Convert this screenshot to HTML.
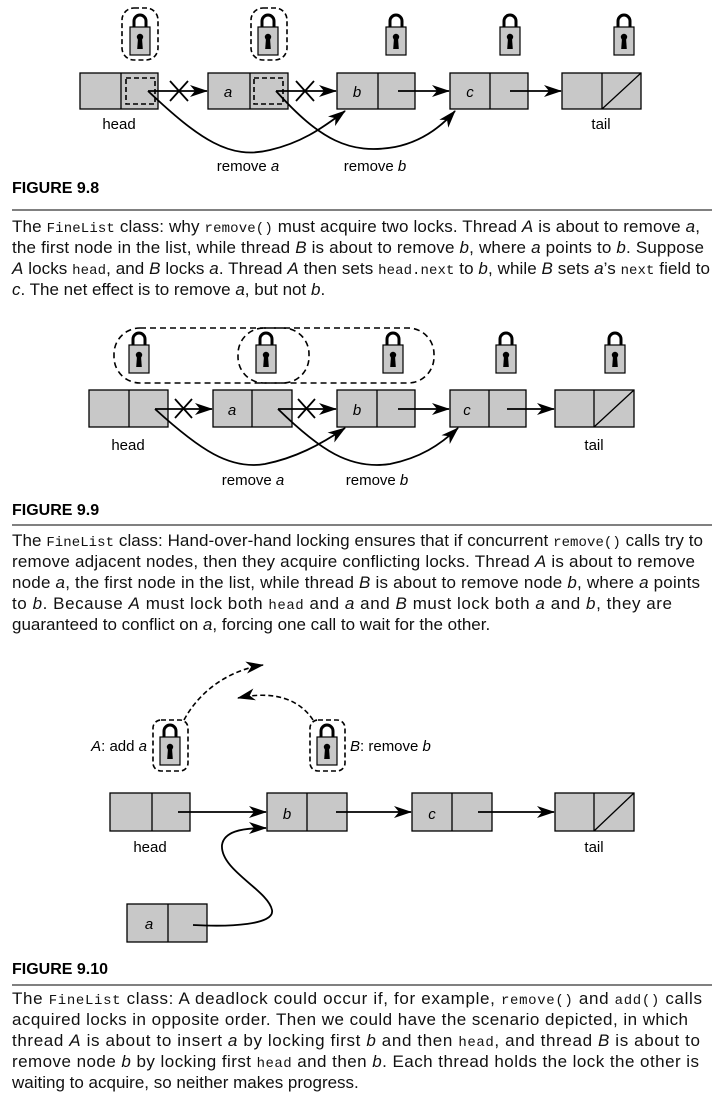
<!DOCTYPE html>
<html><head><meta charset="utf-8"><style>
body{margin:0;background:#fff;width:716px;height:1100px;overflow:hidden}
svg{display:block}
text{font-family:"Liberation Sans",sans-serif}
.cap{font-size:17px;fill:#111}
.mono{font-family:"Liberation Mono",monospace;font-size:14px}
.fig{font-weight:bold;font-size:16px}
.lbl{font-size:15px}
.it{font-style:italic}
</style></head><body>
<svg width="716" height="1100" viewBox="0 0 716 1100" xmlns="http://www.w3.org/2000/svg">
<defs>
<g id="lock">
<path d="M-6,2 V-6 A6,6 0 0 1 6,-6 V2" fill="none" stroke="#000" stroke-width="3"/>
<rect x="-10" y="0" width="20" height="28" fill="#c8c8c8" stroke="#000" stroke-width="1.2"/>
<circle cx="0" cy="10" r="3.2" fill="#000"/>
<path d="M-2,11 L-2.8,22 H2.8 L2,11 Z" fill="#000"/>
</g>
<marker id="ar" markerWidth="18" markerHeight="12" refX="17" refY="6" orient="auto" markerUnits="userSpaceOnUse">
<path d="M0,0 L18,6 L0,12 L5,6 Z" fill="#000"/>
</marker>
</defs>
<g stroke="#000" stroke-width="1.3" fill="#c8c8c8">
<rect x="80" y="73" width="78" height="36"/><line x1="121" y1="73" x2="121" y2="109"/>
<rect x="208" y="73" width="80" height="36"/><line x1="250" y1="73" x2="250" y2="109"/>
<rect x="337" y="73" width="78" height="36"/><line x1="378" y1="73" x2="378" y2="109"/>
<rect x="450" y="73" width="78" height="36"/><line x1="490" y1="73" x2="490" y2="109"/>
<rect x="562" y="73" width="79" height="36"/><line x1="602" y1="73" x2="602" y2="109"/><line x1="602" y1="109" x2="641" y2="73"/>
<rect x="89" y="390" width="79" height="37"/><line x1="129" y1="390" x2="129" y2="427"/>
<rect x="213" y="390" width="79" height="37"/><line x1="252" y1="390" x2="252" y2="427"/>
<rect x="337" y="390" width="78" height="37"/><line x1="377" y1="390" x2="377" y2="427"/>
<rect x="450" y="390" width="76" height="37"/><line x1="489" y1="390" x2="489" y2="427"/>
<rect x="555" y="390" width="79" height="37"/><line x1="594" y1="390" x2="594" y2="427"/><line x1="594" y1="427" x2="634" y2="390"/>
<rect x="110" y="793" width="80" height="38"/><line x1="152" y1="793" x2="152" y2="831"/>
<rect x="267" y="793" width="80" height="38"/><line x1="307" y1="793" x2="307" y2="831"/>
<rect x="412" y="793" width="80" height="38"/><line x1="452" y1="793" x2="452" y2="831"/>
<rect x="555" y="793" width="79" height="38"/><line x1="594" y1="793" x2="594" y2="831"/><line x1="594" y1="831" x2="634" y2="793"/>
<rect x="127" y="904" width="80" height="38"/><line x1="168" y1="904" x2="168" y2="942"/>
</g>
<use href="#lock" x="140" y="27"/><use href="#lock" x="268" y="27"/><use href="#lock" x="396" y="27"/><use href="#lock" x="510" y="27"/><use href="#lock" x="624" y="27"/>
<g fill="none" stroke="#000" stroke-width="1.6" stroke-dasharray="5,3">
<rect x="122" y="8" width="36" height="52" rx="12"/>
<rect x="251" y="8" width="36" height="52" rx="12"/>
<rect x="126" y="78" width="29" height="26"/>
<rect x="254" y="78" width="29" height="26"/>
</g>
<g fill="none" stroke="#000" stroke-width="1.8">
<line x1="148" y1="91" x2="207" y2="91" marker-end="url(#ar)"/>
<line x1="170" y1="81" x2="188" y2="101"/><line x1="188" y1="81" x2="170" y2="101"/>
<line x1="276" y1="91" x2="336" y2="91" marker-end="url(#ar)"/>
<line x1="296" y1="81" x2="314" y2="101"/><line x1="314" y1="81" x2="296" y2="101"/>
<path d="M148,91 C200,140 230,160 270,150 C300,143 320,130 345,111" marker-end="url(#ar)"/>
<path d="M276,91 C320,140 350,155 395,147 C420,142 440,128 455,111" marker-end="url(#ar)"/>
<line x1="398" y1="91" x2="449" y2="91" marker-end="url(#ar)"/>
<line x1="510" y1="91" x2="561" y2="91" marker-end="url(#ar)"/>
</g>
<text x="119" y="129" class="lbl" text-anchor="middle">head</text>
<text x="228" y="97" class="lbl it" text-anchor="middle" font-size="17">a</text>
<text x="357" y="97" class="lbl it" text-anchor="middle" font-size="17">b</text>
<text x="470" y="97" class="lbl it" text-anchor="middle" font-size="17">c</text>
<text x="601" y="129" class="lbl" text-anchor="middle">tail</text>
<text x="248" y="171" class="lbl" text-anchor="middle">remove <tspan class="it">a</tspan></text>
<text x="375" y="171" class="lbl" text-anchor="middle">remove <tspan class="it">b</tspan></text>
<text x="12" y="193" class="fig">FIGURE 9.8</text>
<line x1="12" y1="210" x2="712" y2="210" stroke="#000" stroke-width="1"/>
<g class="cap">
<text x="12" y="232" textLength="688" lengthAdjust="spacing">The <tspan class="mono">FineList</tspan> class: why <tspan class="mono">remove()</tspan> must acquire two locks. Thread <tspan class="it">A</tspan> is about to remove <tspan class="it">a</tspan>,</text>
<text x="12" y="253" textLength="692" lengthAdjust="spacing">the first node in the list, while thread <tspan class="it">B</tspan> is about to remove <tspan class="it">b</tspan>, where <tspan class="it">a</tspan> points to <tspan class="it">b</tspan>. Suppose</text>
<text x="12" y="274" textLength="698" lengthAdjust="spacing"><tspan class="it">A</tspan> locks <tspan class="mono">head</tspan>, and <tspan class="it">B</tspan> locks <tspan class="it">a</tspan>. Thread <tspan class="it">A</tspan> then sets <tspan class="mono">head.next</tspan> to <tspan class="it">b</tspan>, while <tspan class="it">B</tspan> sets <tspan class="it">a</tspan>’s <tspan class="mono">next</tspan> field to</text>
<text x="12" y="295"><tspan class="it">c</tspan>. The net effect is to remove <tspan class="it">a</tspan>, but not <tspan class="it">b</tspan>.</text>
</g>
<use href="#lock" x="139" y="345"/><use href="#lock" x="266" y="345"/><use href="#lock" x="393" y="345"/><use href="#lock" x="506" y="345"/><use href="#lock" x="615" y="345"/>
<g fill="none" stroke="#000" stroke-width="1.6" stroke-dasharray="6,4">
<rect x="114" y="328" width="195" height="55" rx="26"/>
<rect x="238" y="328" width="196" height="55" rx="26"/>
</g>
<g fill="none" stroke="#000" stroke-width="1.8">
<line x1="155" y1="409" x2="212" y2="409" marker-end="url(#ar)"/>
<line x1="175" y1="399" x2="192" y2="418"/><line x1="192" y1="399" x2="175" y2="418"/>
<line x1="278" y1="409" x2="336" y2="409" marker-end="url(#ar)"/>
<line x1="298" y1="399" x2="315" y2="418"/><line x1="315" y1="399" x2="298" y2="418"/>
<path d="M155,409 C200,450 230,470 265,464 C295,458 320,445 345,428" marker-end="url(#ar)"/>
<path d="M278,409 C320,450 350,470 390,464 C420,458 440,445 458,428" marker-end="url(#ar)"/>
<line x1="398" y1="409" x2="449" y2="409" marker-end="url(#ar)"/>
<line x1="507" y1="409" x2="554" y2="409" marker-end="url(#ar)"/>
</g>
<text x="128" y="450" class="lbl" text-anchor="middle">head</text>
<text x="232" y="415" class="lbl it" text-anchor="middle" font-size="17">a</text>
<text x="357" y="415" class="lbl it" text-anchor="middle" font-size="17">b</text>
<text x="467" y="415" class="lbl it" text-anchor="middle" font-size="17">c</text>
<text x="594" y="450" class="lbl" text-anchor="middle">tail</text>
<text x="253" y="485" class="lbl" text-anchor="middle">remove <tspan class="it">a</tspan></text>
<text x="377" y="485" class="lbl" text-anchor="middle">remove <tspan class="it">b</tspan></text>
<text x="12" y="515" class="fig">FIGURE 9.9</text>
<line x1="12" y1="525" x2="712" y2="525" stroke="#000" stroke-width="1"/>
<g class="cap">
<text x="12" y="546" textLength="691" lengthAdjust="spacing">The <tspan class="mono">FineList</tspan> class: Hand-over-hand locking ensures that if concurrent <tspan class="mono">remove()</tspan> calls try to</text>
<text x="12" y="567" textLength="683" lengthAdjust="spacing">remove adjacent nodes, then they acquire conflicting locks. Thread <tspan class="it">A</tspan> is about to remove</text>
<text x="12" y="588" textLength="688" lengthAdjust="spacing">node <tspan class="it">a</tspan>, the first node in the list, while thread <tspan class="it">B</tspan> is about to remove node <tspan class="it">b</tspan>, where <tspan class="it">a</tspan> points</text>
<text x="12" y="609" textLength="660" lengthAdjust="spacing">to <tspan class="it">b</tspan>. Because <tspan class="it">A</tspan> must lock both <tspan class="mono">head</tspan> and <tspan class="it">a</tspan> and <tspan class="it">B</tspan> must lock both <tspan class="it">a</tspan> and <tspan class="it">b</tspan>, they are</text>
<text x="12" y="630">guaranteed to conflict on <tspan class="it">a</tspan>, forcing one call to wait for the other.</text>
</g>
<use href="#lock" x="170" y="737"/><use href="#lock" x="327" y="737"/>
<g fill="none" stroke="#000" stroke-width="1.6" stroke-dasharray="5,3">
<rect x="153" y="720" width="35" height="51" rx="8"/>
<rect x="310" y="720" width="35" height="51" rx="8"/>
<path d="M184,720 C200,690 230,670 263,665" marker-end="url(#ar)"/>
<path d="M313,720 C300,700 275,690 238,698" marker-end="url(#ar)"/>
</g>
<g fill="none" stroke="#000" stroke-width="1.8">
<line x1="178" y1="812" x2="266" y2="812" marker-end="url(#ar)"/>
<path d="M193,925 C230,927 275,925 272,910 C268,890 220,870 222,845 C224,832 240,828 266,828" marker-end="url(#ar)"/>
<line x1="336" y1="812" x2="411" y2="812" marker-end="url(#ar)"/>
<line x1="478" y1="812" x2="554" y2="812" marker-end="url(#ar)"/>
</g>
<text x="147" y="751" class="lbl" text-anchor="end"><tspan class="it">A</tspan>: add <tspan class="it">a</tspan></text>
<text x="350" y="751" class="lbl"><tspan class="it">B</tspan>: remove <tspan class="it">b</tspan></text>
<text x="150" y="852" class="lbl" text-anchor="middle">head</text>
<text x="287" y="819" class="lbl it" text-anchor="middle" font-size="17">b</text>
<text x="432" y="819" class="lbl it" text-anchor="middle" font-size="17">c</text>
<text x="594" y="852" class="lbl" text-anchor="middle">tail</text>
<text x="149" y="929" class="lbl it" text-anchor="middle" font-size="17">a</text>
<text x="12" y="974" class="fig">FIGURE 9.10</text>
<line x1="12" y1="985" x2="712" y2="985" stroke="#000" stroke-width="1"/>
<g class="cap">
<text x="12" y="1004" textLength="690" lengthAdjust="spacing">The <tspan class="mono">FineList</tspan> class: A deadlock could occur if, for example, <tspan class="mono">remove()</tspan> and <tspan class="mono">add()</tspan> calls</text>
<text x="12" y="1025" textLength="676" lengthAdjust="spacing">acquired locks in opposite order. Then we could have the scenario depicted, in which</text>
<text x="12" y="1046" textLength="688" lengthAdjust="spacing">thread <tspan class="it">A</tspan> is about to insert <tspan class="it">a</tspan> by locking first <tspan class="it">b</tspan> and then <tspan class="mono">head</tspan>, and thread <tspan class="it">B</tspan> is about to</text>
<text x="12" y="1067" textLength="687" lengthAdjust="spacing">remove node <tspan class="it">b</tspan> by locking first <tspan class="mono">head</tspan> and then <tspan class="it">b</tspan>. Each thread holds the lock the other is</text>
<text x="12" y="1088">waiting to acquire, so neither makes progress.</text>
</g>
</svg>
</body></html>
